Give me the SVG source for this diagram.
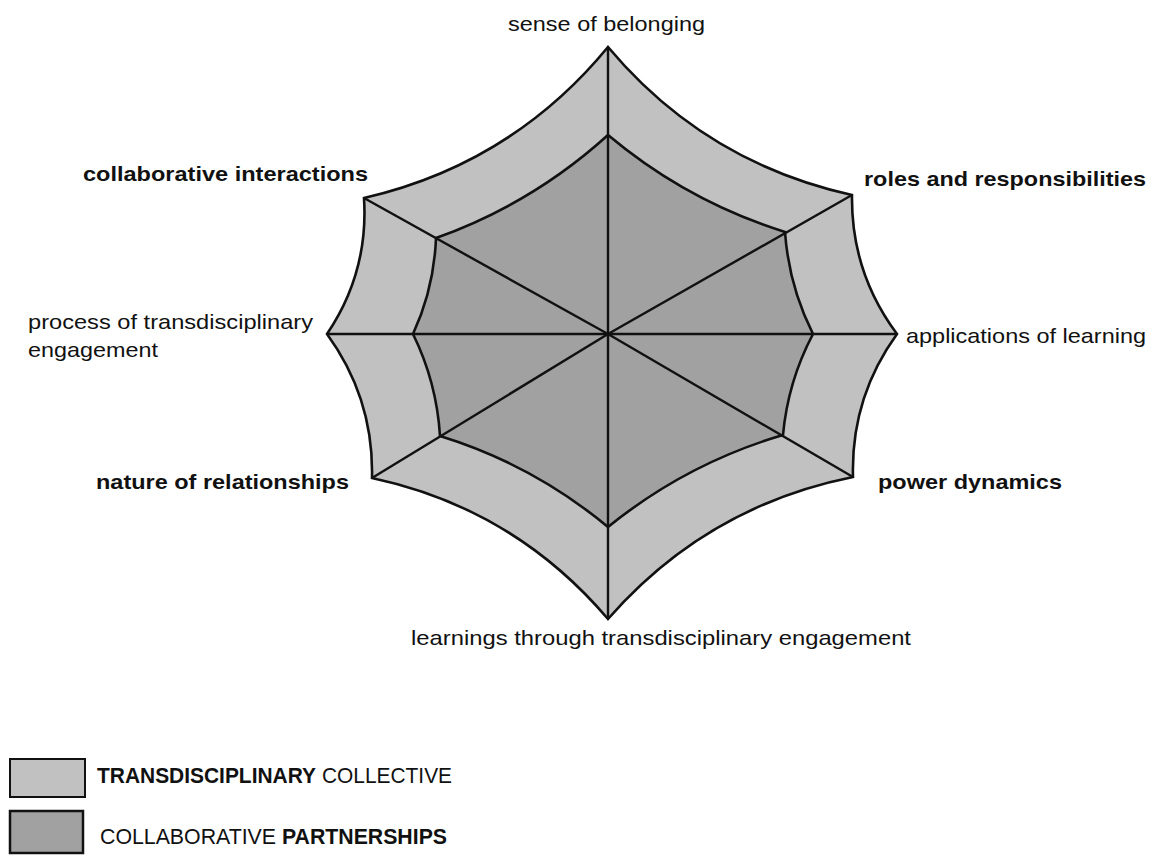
<svg xmlns="http://www.w3.org/2000/svg" width="1154" height="859" viewBox="0 0 1154 859">
<style>
.lbl{font-family:"Liberation Sans",Arial,sans-serif;font-size:21px;fill:#111;}
.b{font-weight:bold;}
.web{stroke:#111;stroke-width:2.6;stroke-linejoin:miter;}
.outer{fill:#c1c1c1;}
.inner{fill:#a1a1a1;}
.spoke{stroke:#111;stroke-width:2.4;fill:none;}
.leg{font-family:"Liberation Sans",Arial,sans-serif;font-size:22px;fill:#111;}
</style>
<rect width="1154" height="859" fill="#fff"/>
<g id="outer-web">
<path class="web outer" d="M608,47 Q704.8,162.5 852,195 Q850.9,272.1 897,334 Q850.7,398 853,477 Q706.4,506.4 608,619 Q514,508.4 372,478 Q373.9,398.4 327,334 Q368.7,272.3 364,198 Q511.7,164 608,47 Z"/>
</g>
<g id="inner-web">
<path class="web inner" d="M608,135 Q686.8,201.2 785,232 Q788.8,285.8 813,334 Q787.9,381.5 783,435 Q686.3,463.5 608,527 Q533.1,464.7 440,436 Q436.7,382.3 413,334 Q434.1,288.3 436,238 Q532.3,203.7 608,135 Z"/>
</g>
<g id="connectors">
<line class="spoke" x1="608" y1="47" x2="608" y2="619"/>
<line class="spoke" x1="327" y1="334" x2="897" y2="334"/>
<line class="spoke" x1="608" y1="334" x2="364" y2="198"/>
<line class="spoke" x1="608" y1="334" x2="852" y2="195"/>
<line class="spoke" x1="608" y1="334" x2="853" y2="477"/>
<line class="spoke" x1="608" y1="334" x2="372" y2="478"/>
</g>
<g id="label-sense-of-belonging"><text class="lbl" x="508" y="31" textLength="197" lengthAdjust="spacingAndGlyphs">sense of belonging</text></g>
<g id="label-collaborative-interactions"><text class="lbl b" x="83" y="181" textLength="285" lengthAdjust="spacingAndGlyphs">collaborative interactions</text></g>
<g id="label-roles-and-responsibilities"><text class="lbl b" x="864" y="186" textLength="282" lengthAdjust="spacingAndGlyphs">roles and responsibilities</text></g>
<g id="label-process"><text class="lbl" x="28" y="329" textLength="285" lengthAdjust="spacingAndGlyphs">process of transdisciplinary</text><text class="lbl" x="28" y="357" textLength="130" lengthAdjust="spacingAndGlyphs">engagement</text></g>
<g id="label-applications-of-learning"><text class="lbl" x="906" y="343" textLength="240" lengthAdjust="spacingAndGlyphs">applications of learning</text></g>
<g id="label-nature-of-relationships"><text class="lbl b" x="96" y="489" textLength="253" lengthAdjust="spacingAndGlyphs">nature of relationships</text></g>
<g id="label-power-dynamics"><text class="lbl b" x="878" y="489" textLength="184" lengthAdjust="spacingAndGlyphs">power dynamics</text></g>
<g id="label-learnings"><text class="lbl" x="411" y="645" textLength="500" lengthAdjust="spacingAndGlyphs">learnings through transdisciplinary engagement</text></g>
<g id="legend-transdisciplinary-collective">
<rect x="10" y="759" width="75" height="38" fill="#c1c1c1" stroke="#111" stroke-width="2"/>
<text class="leg b" x="97" y="783" textLength="219" lengthAdjust="spacingAndGlyphs">TRANSDISCIPLINARY</text>
<text class="leg" x="322" y="783" textLength="130" lengthAdjust="spacingAndGlyphs">COLLECTIVE</text>
</g>
<g id="legend-collaborative-partnerships">
<rect x="10" y="811" width="73" height="42" fill="#a1a1a1" stroke="#111" stroke-width="2.5"/>
<text class="leg" x="100" y="844" textLength="176" lengthAdjust="spacingAndGlyphs">COLLABORATIVE</text>
<text class="leg b" x="282" y="844" textLength="165" lengthAdjust="spacingAndGlyphs">PARTNERSHIPS</text>
</g>
</svg>
